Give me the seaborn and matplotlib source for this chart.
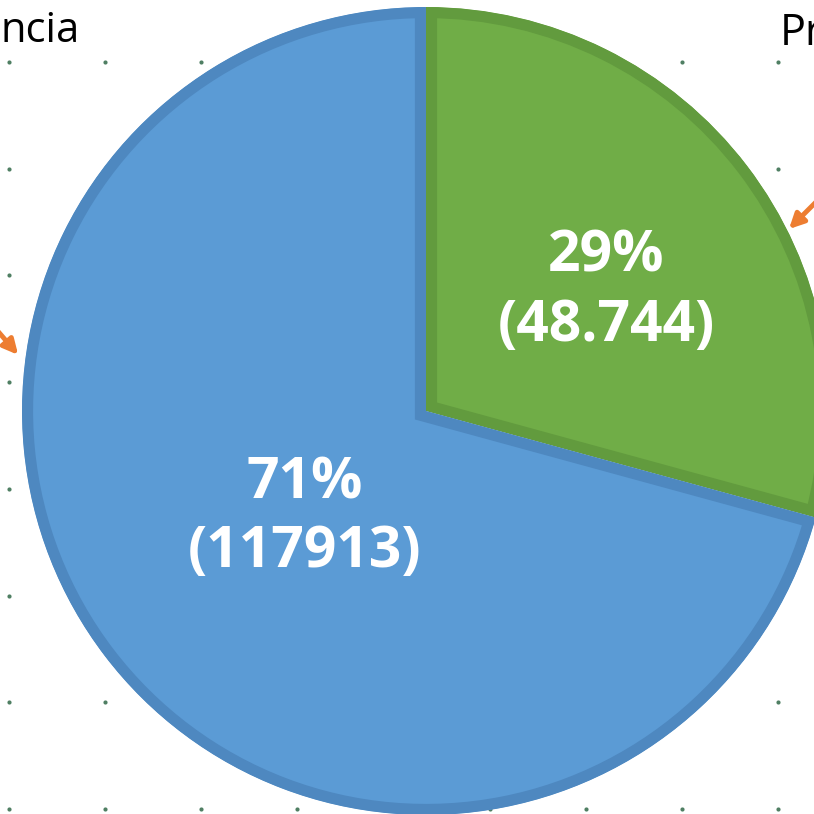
import numpy as np
import matplotlib
matplotlib.use('Agg')
import matplotlib.pyplot as plt
import seaborn as sns

# data
categories = ['Presencia', 'Ausencia']
counts = [48744, 117913]
count_labels = ['(48.744)', '(117913)']
fill_colors = ['#70AD47', '#5B9BD5']
edge_colors = ['#629B3E', '#4E88C0']

W = 814

sns.set_theme(style='white')
plt.rcParams['font.family'] = ['Open Sans', 'DejaVu Sans']

fig = plt.figure(figsize=(8.14, 8.14), dpi=100)
ax = fig.add_axes([0, 0, 1, 1])


def Y(y):
    # pixel row (from top) -> data y
    return W - y


# background grid dots
gx = 9 + 96.1 * np.arange(9)
gy = 62 + 106.7 * np.arange(8)
GX, GY = np.meshgrid(gx, gy)
ax.scatter(GX.ravel(), Y(GY.ravel()), s=9, color='#4F7F63', zorder=0, linewidths=0)

wedges, _ = ax.pie(counts, colors=fill_colors, startangle=90, counterclock=False,
                   radius=404, center=(426, Y(411)),
                   wedgeprops=dict(linewidth=16))
ax.set_xlim(0, W)
ax.set_ylim(0, W)
ax.set_aspect('equal')
ax.axis('off')

# keep only the inner half of each wedge outline
for w, ec in zip(wedges, edge_colors):
    w.set_edgecolor(ec)
    w.set_clip_on(True)
    w.set_clip_path(w.get_path(), w.get_transform())
    w.set_zorder(2)

total = sum(counts)
pct = [f'{100 * c / total:.0f}%' for c in counts]
label_pos = [(606, 291), (305, 518)]
for (x, y), p, lab in zip(label_pos, pct, count_labels):
    ax.text(x, Y(y), f'{p}\n{lab}', color='white', fontsize=41, fontweight='bold',
            ha='center', va='center', linespacing=1.25, zorder=5)

# cut-off category labels at the top corners
ax.text(0, Y(42), 'ncia', fontsize=30, color='black', ha='left', va='baseline')
ax.text(780, Y(45), 'Pr', fontsize=31, color='black', ha='left', va='baseline')

arrow = dict(arrowstyle='-|>', color='#ED7D31', lw=3.5, mutation_scale=22)
ax.annotate('', xy=(20, Y(357)), xytext=(-10, Y(322)), arrowprops=arrow, annotation_clip=False)
ax.annotate('', xy=(787, Y(231)), xytext=(822, Y(196)), arrowprops=arrow, annotation_clip=False)

fig.savefig('out.png', dpi=100, facecolor='white')
